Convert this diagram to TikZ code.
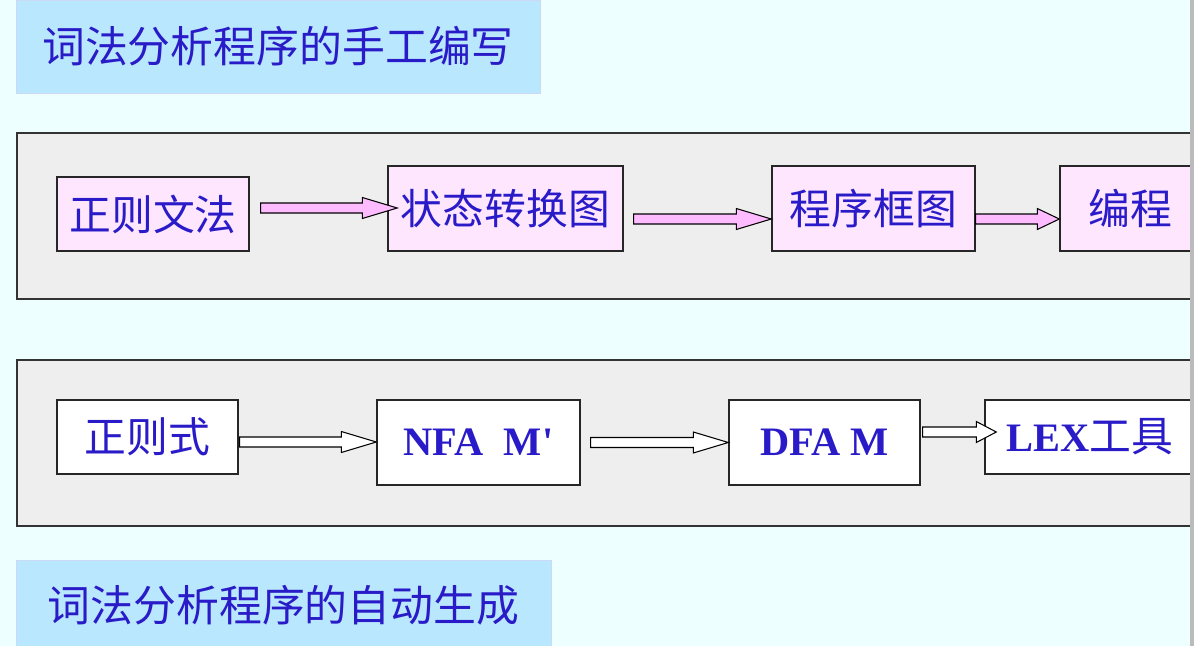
\documentclass[tikz,border=0pt]{standalone}
\usepackage{fontspec}
\setmainfont{Liberation Serif}
\newfontfamily\cjk{Noto Sans CJK SC}
\usetikzlibrary{calc}

\definecolor{bgcyan}{HTML}{EEFFFF}
\definecolor{titleblue}{HTML}{B9E8FE}
\definecolor{titleline}{HTML}{CCD9F5}
\definecolor{panelgray}{HTML}{EEEEEE}
\definecolor{boxpink}{HTML}{FFE6FF}
\definecolor{arrowpink}{HTML}{FFBBFF}
\definecolor{textblue}{HTML}{2A1BC8}
\definecolor{edgegray}{HTML}{BBBBBB}

\newcommand{\latn}{\rmfamily\bfseries\fontsize{23}{28}\selectfont}

\tikzset{
  panel/.style={draw=black!80, line width=0.9pt, fill=panelgray},
  titlebox/.style 2 args={draw=titleline, fill=titleblue, minimum width=#1*0.02cm, minimum height=#2*0.02cm, inner sep=0pt,
    text=textblue, font=\cjk\fontsize{24.4}{28}\selectfont},
  stagebox/.style 2 args={draw=black!85, line width=0.8pt, minimum width=#1*0.02cm, minimum height=#2*0.02cm, inner sep=0pt,
    text=textblue, font=\cjk\fontsize{23.8}{28}\selectfont},
  pinkbox/.style 2 args={stagebox={#1}{#2}, fill=boxpink},
  whitebox/.style 2 args={stagebox={#1}{#2}, fill=white},
  parrow/.style={draw=black, line width=0.6pt, fill=arrowpink, line join=miter},
  warrow/.style={draw=black, line width=0.6pt, fill=white, line join=miter}
}

% block arrow: style, start, end, head length
\newcommand{\fatarrow}[4]{%
  \path #2 coordinate (S) #3 coordinate (E);
  \draw[#1] ($(S)+(0,-5)$) -- ($(E|-S)+(-#4,-5)$) -- ($(E|-S)+(-#4,-10.5)$) -- (E|-S)
    -- ($(E|-S)+(-#4,10.5)$) -- ($(E|-S)+(-#4,5)$) -- ($(S)+(0,5)$) -- cycle;
}

\begin{document}
\begin{tikzpicture}[x=0.02cm, y=-0.02cm]
  \useasboundingbox (0,0) rectangle (1194,646);
  \fill[bgcyan] (0,0) rectangle (1194,646);
  \begin{scope}
    \clip (0,0) rectangle (1190,646);
    \node[titlebox={524}{93}] (T1) at (278,46.5) {词法分析程序的手工编写};
    \node[titlebox={535}{90}] (T2) at (283.5,605) {词法分析程序的自动生成};
    \draw[panel] (17,133) rectangle (1210,299);
    \draw[panel] (17,360) rectangle (1210,526);
    % hand-written
    \node[pinkbox={192}{74}] (RG) at (153,214) {正则文法};
    \node[pinkbox={235}{85}] (SD) at (505.5,208.5) {状态转换图};
    \node[pinkbox={203}{85}] (FC) at (873.5,208.5) {程序框图};
    \node[pinkbox={140}{85}] (PR) at (1130,208.5) {编程};
    \fatarrow{parrow}{($(RG.east)+(11,-6)$)}{($(SD.west)+(10,0)$)}{35}
    \fatarrow{parrow}{($(SD.east)+(10,10.5)$)}{(FC.west)}{35}
    \fatarrow{parrow}{($(FC.east)+(0,10.5)$)}{(PR.west)}{22}
    % generated
    \node[whitebox={181}{74}] (RE) at (147.5,437) {正则式};
    \node[whitebox={203}{85}] (NFA) at (478.5,442.5) {\latn NFA\ \ M\textquotesingle};
    \node[whitebox={191}{85}] (DFA) at (824.5,442.5) {\latn DFA M};
    \node[whitebox={210}{74}] (LEX) at (1090,437) {{\latn LEX}工具};
    \fatarrow{warrow}{($(RE.east)+(1,5)$)}{(NFA.west)}{35}
    \fatarrow{warrow}{($(NFA.east)+(10,0)$)}{(DFA.west)}{35}
    \fatarrow{warrow}{($(DFA.east)+(2,-10.5)$)}{($(LEX.west)+(12,0)$)}{20}
  \end{scope}
  \fill[edgegray] (1190,0) rectangle (1194,646);
\end{tikzpicture}
\end{document}
